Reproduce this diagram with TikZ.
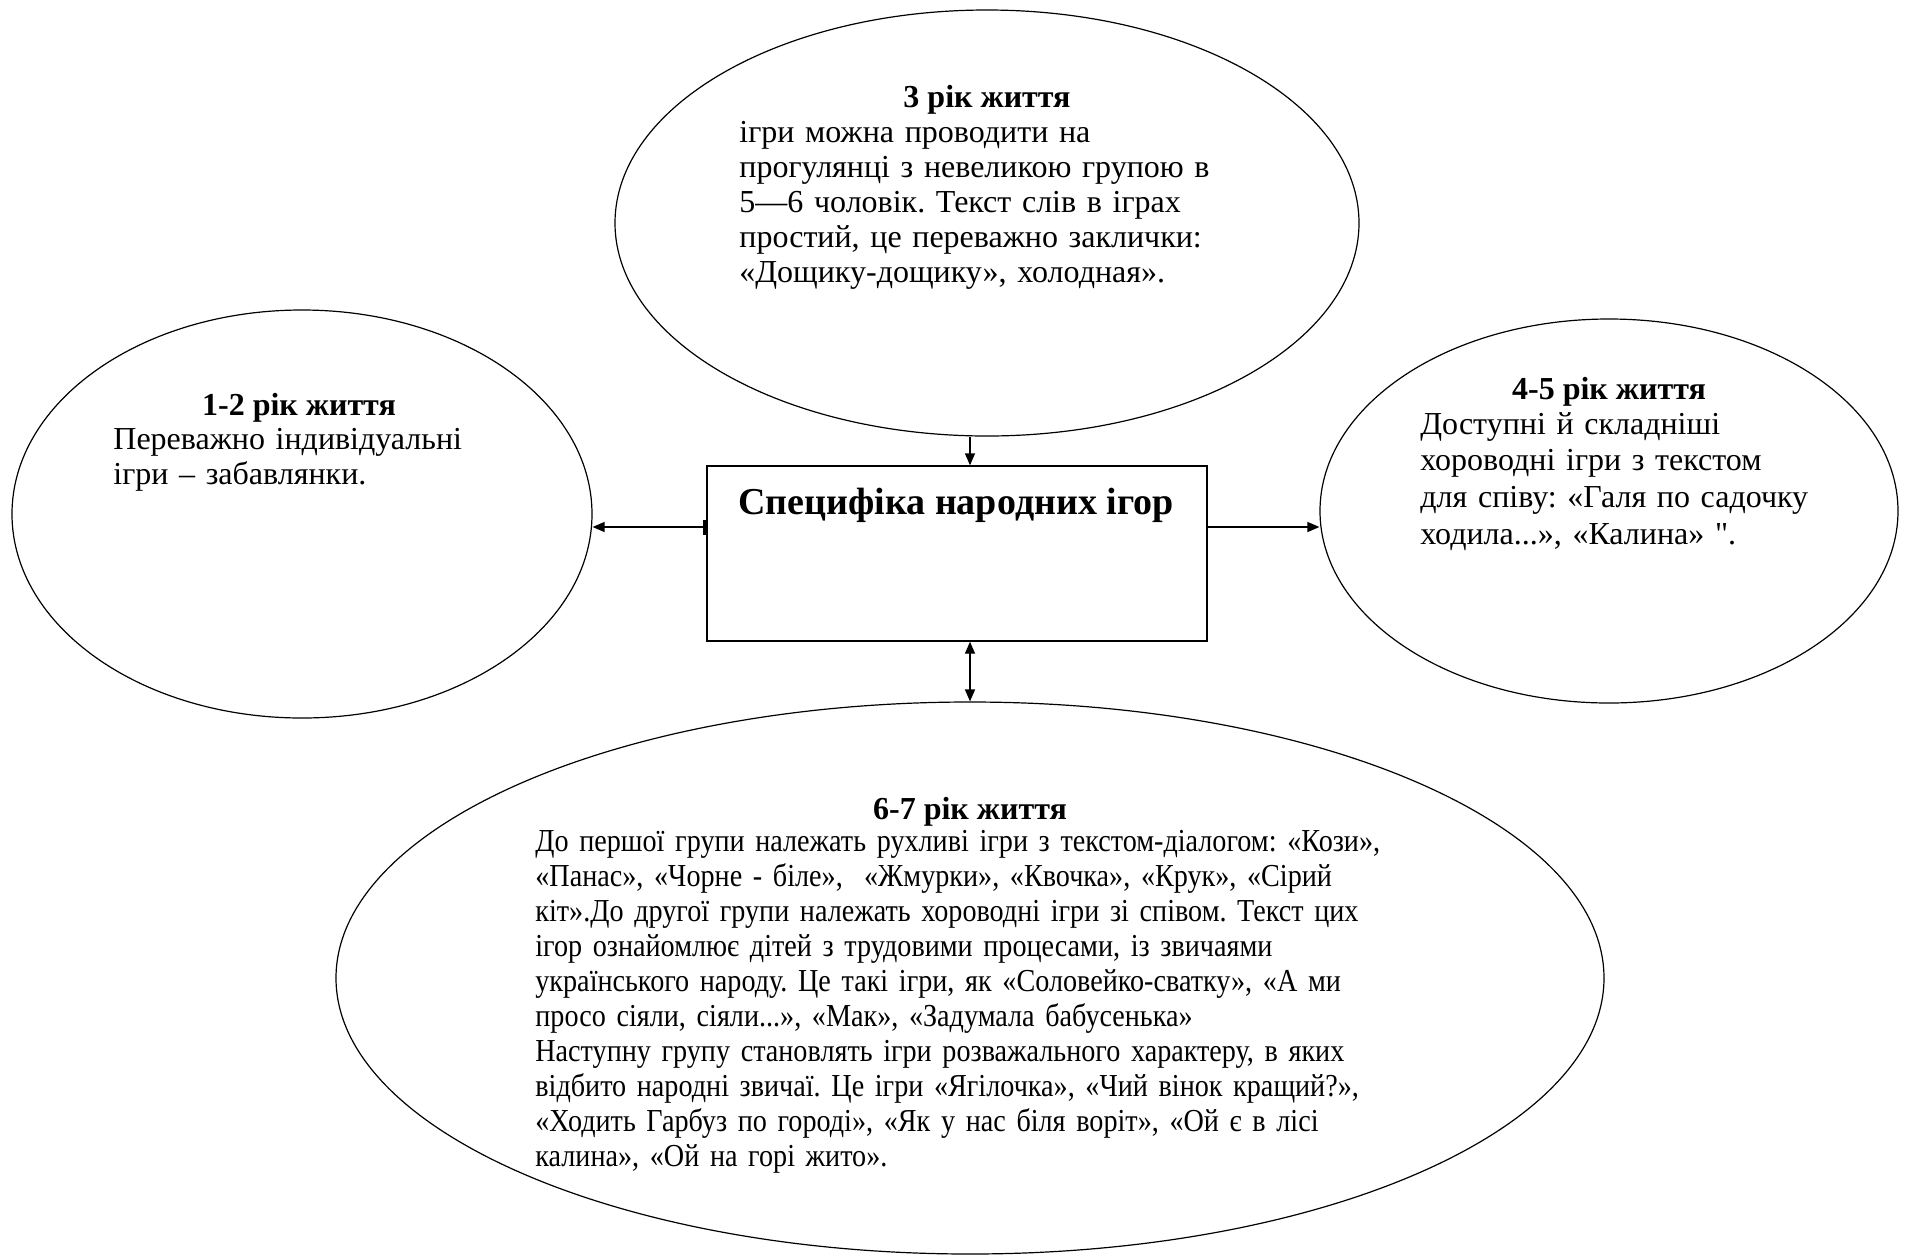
\documentclass[tikz,border=0pt]{standalone}
\usepackage{fontspec}
\setmainfont{Liberation Serif}
\newfontfamily\condserif{Liberation Serif}[FakeStretch=0.88]
\newfontfamily\rawserif{Liberation Serif}[Ligatures=TeXOff]
\frenchspacing
\usetikzlibrary{shapes.geometric,arrows.meta}
\begin{document}
\begin{tikzpicture}[x=0.5pt,y=-0.5pt,
  oval/.style={draw,ellipse,line width=0.6pt,inner sep=0pt},
  box/.style={draw,rectangle,line width=0.7pt,inner sep=0pt},
  head/.style={font=\fontsize{16}{17.4}\selectfont\bfseries,inner sep=0pt,anchor=base},
  body/.style={font=\fontsize{16}{17.6}\selectfont\frenchspacing,inner sep=0pt,anchor=base west,align=left,text width=#1},
  link/.style={line width=0.7pt,-{Triangle[length=6pt,width=5pt]}},
  barlink/.style={line width=0.7pt,{Bar[width=7.5pt,line width=1.5pt]}-{Triangle[length=6pt,width=5pt]}},
  link2/.style={line width=0.7pt,{Triangle[length=6pt,width=5pt]}-{Triangle[length=6pt,width=5pt]}},
]
\useasboundingbox (0,0) rectangle (1908,1255);
\node[oval,minimum width=372pt,minimum height=213pt] (topE) at (987,223) {};
\node[oval,minimum width=290pt,minimum height=204pt] (leftE) at (302,514) {};
\node[oval,minimum width=289pt,minimum height=192pt] (rightE) at (1609,511) {};
\node[oval,minimum width=634pt,minimum height=276pt] (botE) at (970,978) {};
\node[box,minimum width=250pt,minimum height=87.5pt] (box) at (957,553.5) {};
\coordinate (ax) at (970,0);
\coordinate (ay) at (0,527);

\node[font=\fontsize{19}{21}\selectfont\bfseries,inner sep=0pt,anchor=base] (title) at (956,514) {Специфіка народних ігор};

\node[head] (h3) at (987,107) {3 рік життя};
\node[body=250pt] (b3) at (739,142) {ігри можна проводити на\\
прогулянці з невеликою групою в\\
5—6 чоловік. Текст слів в іграх\\
простий, це переважно заклички:\\
«Дощику-дощику», холодная».};

\node[head] (h12) at (299,415) {1-2 рік життя};
\node[body=200pt] (b12) at (113,449) {Переважно індивідуальні\\
ігри – забавлянки.};

\node[head] (h45) at (1609,399) {4-5 рік життя};
\node[body=200pt,font=\fontsize{16}{18.4}\selectfont] (b45) at (1420,434) {Доступні й складніші\\
хороводні ігри з текстом\\
для співу: «Галя по садочку\\
ходила...», «Калина» {\rawserif"}.};

\node[head] (h67) at (970,819) {6-7 рік життя};
\node[body=480pt,font=\condserif\fontsize{16}{17.5}\selectfont] (b67) at (535,851) {До першої групи належать рухливі ігри з текстом-діалогом: «Кози»,\\
«Панас», «Чорне - біле», \ «Жмурки», «Квочка», «Крук», «Сірий\\
кіт».До другої групи належать хороводні ігри зі співом. Текст цих\\
ігор ознайомлює дітей з трудовими процесами, із звичаями\\
українського народу. Це такі ігри, як «Соловейко-сватку», «А ми\\
просо сіяли, сіяли...», «Мак», «Задумала бабусенька»\\
Наступну групу становлять ігри розважального характеру, в яких\\
відбито народні звичаї. Це ігри «Ягілочка», «Чий вінок кращий?»,\\
«Ходить Гарбуз по городі», «Як у нас біля воріт», «Ой є в лісі\\
калина», «Ой на горі жито».};

\draw[link] (topE.south -| ax) -- (box.north -| ax);
\draw[barlink] (box.west |- ay) -- (leftE.east |- ay);
\draw[link] (box.east |- ay) -- (rightE.west |- ay);
\draw[link2] (box.south -| ax) -- (botE.north -| ax);
\end{tikzpicture}
\end{document}
